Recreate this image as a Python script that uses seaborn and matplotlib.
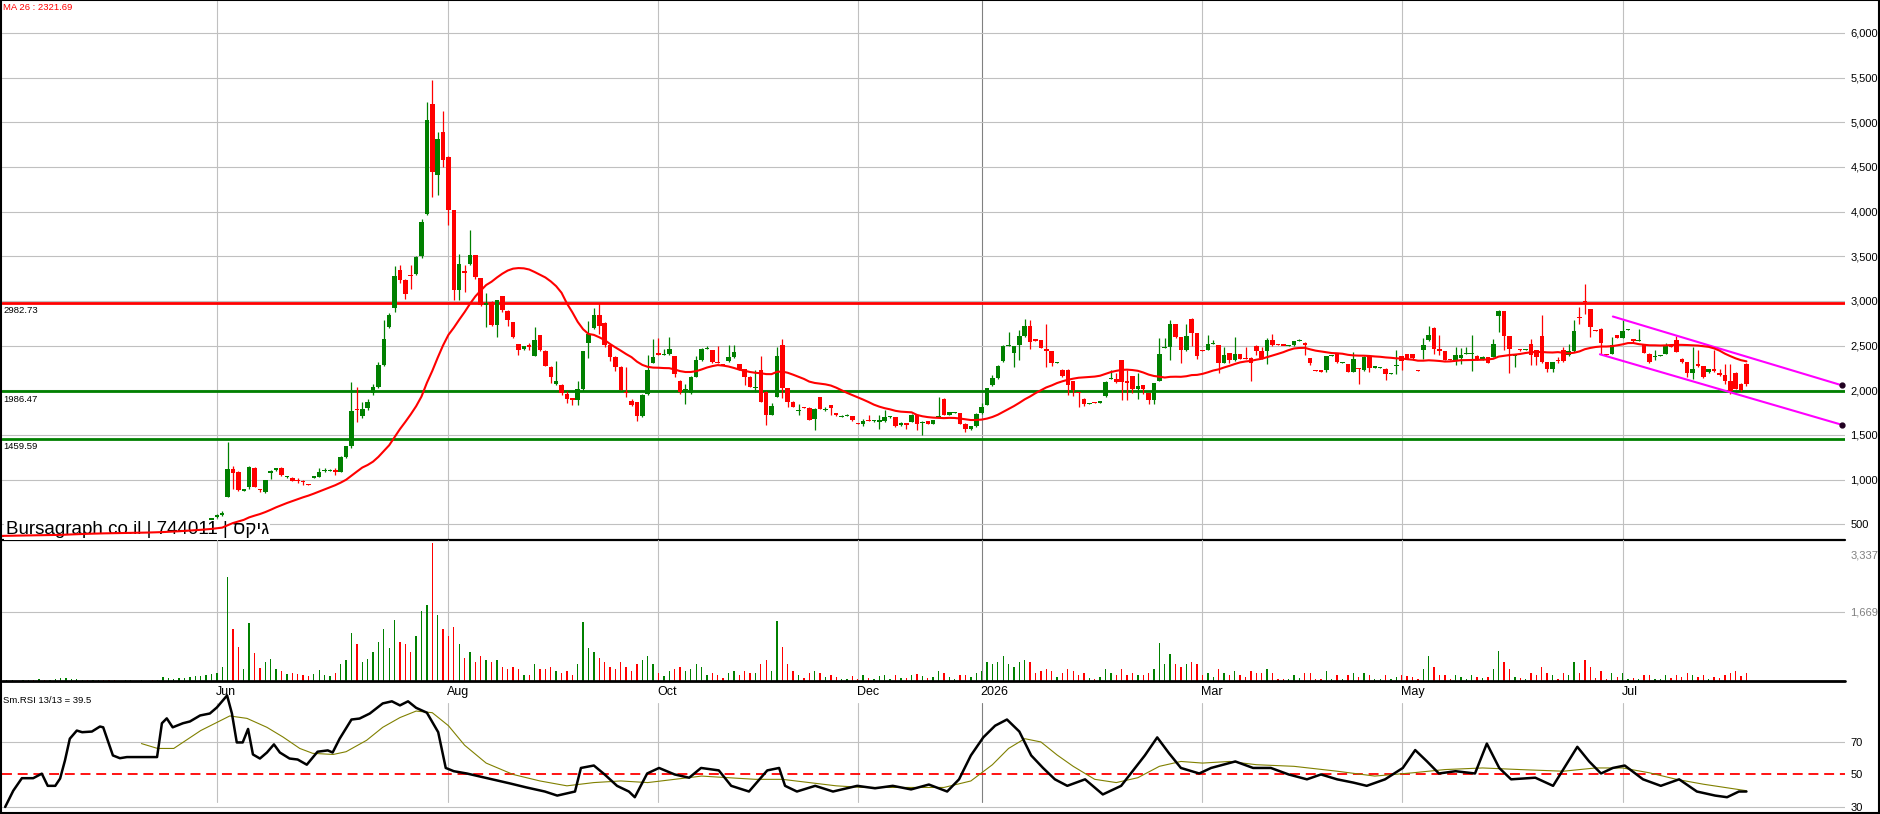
import numpy as np
import pandas as pd
import matplotlib
matplotlib.use("Agg")
import matplotlib.pyplot as plt
import seaborn as sns
from matplotlib.patches import Rectangle

# daily candles, one entry per trading day (bar 0 = first day on the chart)
opens = [
    366, 370, 372, 375, 378, 380, 380, 379, 381, 380,
    383, 395, 405, 415, 420, 425, 426, 425, 427, 428,
    422, 420, 419, 420, 420, 421, 420, 420, 421, 420,
    420, 440, 452, 460, 468, 478, 488, 498, 515, 540,
    580, 600, 809, 1118, 1085, 880, 921, 1133, 890, 865,
    1080, 1110, 1133, 1033, 1021, 990, 990, 950, 1020, 1033,
    1100, 1105, 1100, 1089, 1256, 1372, 1790, 1716, 1797, 1965,
    2040, 2282, 2711, 2920, 3352, 3240, 3290, 3307, 3500, 3979,
    5210, 4407, 4892, 4612, 4016, 3121, 3330, 3412, 3513, 3252,
    2954, 2990, 2729, 3050, 2890, 2767, 2517, 2457, 2500, 2387,
    2617, 2442, 2264, 2067, 2063, 1960, 1905, 1893, 2015, 2530,
    2696, 2848, 2756, 2511, 2374, 2263, 1980, 1881, 1867, 1707,
    1959, 2307, 2410, 2404, 2404, 2381, 2104, 2000, 1974, 2152,
    2337, 2465, 2448, 2310, 2290, 2326, 2370, 2289, 2233, 2152,
    2025, 2226, 1985, 1726, 1930, 2504, 2022, 1870, 1775, 1810,
    1804, 1681, 1922, 1787, 1833, 1748, 1705, 1717, 1711, 1628,
    1622, 1665, 1657, 1654, 1656, 1702, 1700, 1607, 1624, 1648,
    1726, 1642, 1656, 1622, 1705, 1904, 1722, 1750, 1744, 1622,
    1567, 1596, 1744, 1837, 2056, 2141, 2333, 2500, 2415, 2504,
    2604, 2716, 2565, 2560, 2466, 2437, 2308, 2231, 2231, 2101,
    1976, 1907, 1850, 1868, 1862, 1937, 2129, 2131, 2336, 2095,
    2157, 2019, 2056, 1970, 1896, 2105, 2476, 2485, 2738, 2597,
    2448, 2802, 2642, 2450, 2455, 2520, 2504, 2306, 2418, 2336,
    2403, 2360, 2366, 2500, 2437, 2440, 2560, 2517, 2509, 2502,
    2504, 2558, 2534, 2358, 2226, 2218, 2224, 2386, 2403, 2312,
    2291, 2205, 2245, 2224, 2381, 2260, 2254, 2243, 2185, 2274,
    2381, 2403, 2403, 2226, 2448, 2560, 2701, 2459, 2437, 2345,
    2343, 2365, 2408, 2408, 2388, 2347, 2373, 2373, 2832, 2888,
    2604, 2390, 2459, 2453, 2522, 2448, 2604, 2317, 2243, 2338,
    2448, 2392, 2437, 2815, 2995, 2907, 2674, 2690, 2405, 2410,
    2616, 2590, 2677, 2571, 2558, 2504, 2410, 2378, 2390, 2410,
    2511, 2560, 2354, 2313, 2194, 2299, 2269, 2205, 2239, 2198,
    2168, 2101, 2198, 2075, 2299,
]
highs = [
    374, 376, 379, 382, 384, 384, 383, 385, 385, 387,
    399, 409, 419, 424, 429, 430, 430, 431, 432, 430,
    424, 423, 424, 424, 425, 425, 424, 425, 425, 424,
    445, 457, 465, 473, 483, 493, 503, 515, 545, 570,
    610, 650, 1417, 1150, 1100, 900, 1150, 1140, 895, 1000,
    1110, 1135, 1140, 1045, 1025, 1020, 995, 955, 1040, 1125,
    1125, 1115, 1125, 1260, 1380, 2095, 2040, 1870, 1900, 2075,
    2320, 2785, 2870, 3390, 3400, 3250, 3400, 3500, 3920, 5228,
    5470, 4892, 5130, 4620, 4020, 3531, 3400, 3792, 3520, 3260,
    3085, 2995, 3015, 3060, 2895, 2770, 2520, 2500, 2530, 2711,
    2620, 2450, 2270, 2326, 2070, 1990, 1910, 2100, 2440, 2781,
    2922, 2974, 2760, 2515, 2380, 2270, 2263, 1900, 1870, 1955,
    2393, 2578, 2589, 2467, 2596, 2385, 2110, 2067, 2160, 2381,
    2475, 2493, 2455, 2493, 2295, 2504, 2511, 2295, 2240, 2160,
    2226, 2385, 1990, 1856, 2485, 2578, 2030, 1875, 1848, 1815,
    1810, 1800, 1925, 1818, 1835, 1750, 1720, 1730, 1715, 1630,
    1680, 1722, 1670, 1722, 1778, 1715, 1705, 1640, 1630, 1735,
    1730, 1655, 1660, 1670, 1930, 1910, 1760, 1760, 1750, 1630,
    1600, 1745, 1856, 2030, 2170, 2280, 2510, 2652, 2500, 2670,
    2795, 2783, 2570, 2565, 2746, 2440, 2315, 2235, 2235, 2105,
    1980, 1910, 1860, 1870, 1885, 2100, 2225, 2198, 2340, 2224,
    2160, 2194, 2060, 1975, 2085, 2590, 2590, 2783, 2745, 2600,
    2746, 2810, 2645, 2455, 2623, 2567, 2510, 2485, 2420, 2597,
    2405, 2490, 2370, 2505, 2485, 2586, 2634, 2520, 2512, 2510,
    2555, 2575, 2540, 2362, 2228, 2220, 2385, 2392, 2405, 2318,
    2295, 2429, 2250, 2380, 2385, 2268, 2260, 2245, 2190, 2448,
    2385, 2405, 2405, 2228, 2590, 2716, 2710, 2616, 2440, 2350,
    2485, 2470, 2485, 2623, 2390, 2380, 2378, 2578, 2903, 2890,
    2610, 2395, 2462, 2460, 2578, 2450, 2840, 2320, 2320, 2370,
    2485, 2522, 2783, 2930, 3186, 2910, 2678, 2695, 2410, 2597,
    2620, 2783, 2685, 2575, 2683, 2508, 2415, 2455, 2400, 2530,
    2515, 2605, 2358, 2318, 2485, 2455, 2272, 2239, 2455, 2242,
    2290, 2290, 2200, 2080, 2305,
]
lows = [
    362, 366, 368, 371, 374, 376, 375, 375, 376, 376,
    379, 391, 401, 411, 416, 421, 421, 421, 423, 418,
    416, 415, 415, 416, 416, 416, 416, 416, 416, 416,
    416, 436, 448, 456, 464, 474, 484, 494, 511, 536,
    575, 598, 800, 900, 870, 870, 900, 915, 860, 850,
    1010, 1100, 1040, 1020, 985, 960, 940, 935, 1015, 1030,
    1090, 1095, 1050, 1085, 1240, 1350, 1650, 1690, 1780, 1950,
    2030, 2270, 2700, 2880, 3200, 3020, 3130, 3290, 3480, 3960,
    4165, 4184, 4500, 3848, 3009, 3009, 3100, 3400, 3250, 2940,
    2711, 2720, 2599, 2880, 2720, 2590, 2390, 2450, 2450, 2380,
    2440, 2270, 2077, 2060, 1950, 1860, 1830, 1830, 1990, 2363,
    2690, 2626, 2480, 2330, 2220, 2000, 1930, 1820, 1652, 1700,
    1950, 2300, 2400, 2400, 2400, 2150, 1960, 1848, 1960, 2150,
    2330, 2460, 2310, 2300, 2285, 2320, 2365, 2230, 2056, 2035,
    1985, 1870, 1615, 1720, 1925, 1911, 1818, 1810, 1726, 1800,
    1665, 1559, 1785, 1763, 1719, 1715, 1700, 1710, 1660, 1624,
    1600, 1660, 1650, 1567, 1650, 1695, 1590, 1600, 1567, 1640,
    1552, 1504, 1620, 1618, 1700, 1720, 1718, 1745, 1620, 1533,
    1560, 1590, 1740, 1830, 2050, 2130, 2320, 2495, 2263, 2344,
    2600, 2466, 2555, 2470, 2261, 2269, 2305, 2150, 1950, 1937,
    1814, 1820, 1845, 1860, 1855, 1930, 2125, 2080, 1896, 1896,
    1971, 1900, 1960, 1843, 1843, 2100, 2470, 2336, 2590, 2310,
    2440, 2500, 2355, 2440, 2450, 2515, 2194, 2300, 2306, 2330,
    2350, 2355, 2105, 2400, 2355, 2290, 2500, 2510, 2502, 2500,
    2500, 2555, 2390, 2280, 2220, 2200, 2200, 2380, 2310, 2308,
    2200, 2200, 2067, 2220, 2205, 2255, 2250, 2112, 2180, 2187,
    2231, 2350, 2355, 2220, 2350, 2555, 2410, 2392, 2340, 2338,
    2287, 2290, 2405, 2216, 2340, 2340, 2300, 2370, 2653, 2448,
    2198, 2261, 2445, 2450, 2280, 2280, 2310, 2205, 2200, 2310,
    2320, 2385, 2430, 2740, 2850, 2597, 2668, 2410, 2380, 2405,
    2585, 2585, 2675, 2545, 2555, 2415, 2310, 2340, 2385, 2405,
    2480, 2425, 2310, 2149, 2130, 2265, 2138, 2190, 2210, 2165,
    2075, 1963, 2015, 1995, 2050,
]
closes = [
    370, 372, 375, 378, 380, 380, 379, 381, 380, 383,
    395, 405, 415, 420, 425, 426, 425, 427, 428, 422,
    420, 419, 420, 420, 421, 420, 420, 421, 420, 420,
    440, 452, 460, 468, 478, 488, 498, 510, 540, 565,
    600, 625, 1118, 1070, 884, 890, 1144, 921, 884, 995,
    1089, 1133, 1051, 1036, 988, 988, 975, 945, 1035, 1089,
    1105, 1107, 1095, 1256, 1375, 1764, 1780, 1790, 1872, 2040,
    2282, 2570, 2841, 3282, 3233, 3083, 3285, 3494, 3885, 5023,
    4445, 4818, 4575, 4016, 3121, 3412, 3318, 3513, 3263, 2954,
    2972, 2729, 3009, 2897, 2785, 2599, 2450, 2494, 2494, 2561,
    2450, 2275, 2144, 2104, 1967, 1907, 1900, 2011, 2437, 2633,
    2848, 2719, 2511, 2374, 2263, 2004, 1974, 1830, 1707, 1948,
    2226, 2374, 2405, 2404, 2459, 2181, 1978, 2011, 2152, 2337,
    2467, 2470, 2315, 2307, 2289, 2370, 2426, 2233, 2152, 2041,
    2030, 1874, 1726, 1819, 2381, 2022, 1874, 1818, 1778, 1805,
    1670, 1793, 1789, 1790, 1807, 1719, 1708, 1720, 1667, 1626,
    1652, 1663, 1660, 1657, 1700, 1705, 1596, 1633, 1622, 1726,
    1619, 1645, 1626, 1667, 1708, 1726, 1752, 1753, 1626, 1567,
    1596, 1737, 1818, 2022, 2133, 2270, 2500, 2504, 2496, 2604,
    2716, 2541, 2560, 2478, 2440, 2310, 2312, 2160, 2056, 2000,
    1974, 1851, 1853, 1866, 1880, 2093, 2131, 2093, 2093, 2093,
    2019, 2049, 2011, 1896, 2079, 2403, 2478, 2738, 2597, 2448,
    2604, 2642, 2381, 2448, 2515, 2522, 2306, 2392, 2336, 2403,
    2355, 2358, 2300, 2440, 2362, 2560, 2504, 2515, 2507, 2505,
    2548, 2560, 2504, 2306, 2224, 2216, 2381, 2388, 2317, 2314,
    2205, 2347, 2243, 2373, 2254, 2263, 2256, 2179, 2187, 2276,
    2325, 2355, 2360, 2224, 2504, 2623, 2466, 2440, 2343, 2343,
    2392, 2392, 2410, 2410, 2347, 2373, 2306, 2522, 2888, 2608,
    2466, 2392, 2448, 2455, 2392, 2373, 2317, 2243, 2317, 2336,
    2328, 2437, 2660, 2813, 2989, 2709, 2672, 2530, 2403, 2511,
    2590, 2660, 2679, 2548, 2560, 2418, 2317, 2380, 2392, 2500,
    2485, 2429, 2313, 2194, 2235, 2269, 2149, 2235, 2213, 2168,
    2101, 1993, 2019, 2000, 2067,
]
volume = [
    20, 15, 30, 10, 25, 20, 15, 40, 20, 30,
    60, 80, 70, 50, 40, 30, 20, 25, 30, 20,
    15, 20, 10, 15, 20, 10, 15, 10, 20, 15,
    90, 70, 60, 80, 70, 90, 110, 130, 150, 160,
    200, 350, 2520, 1260, 820, 300, 1400, 670, 320, 450,
    520, 300, 250, 180, 200, 160, 150, 120, 180, 260,
    150, 120, 200, 400, 500, 1150, 900, 450, 520, 700,
    950, 1250, 800, 1480, 950, 900, 700, 1100, 1690, 1840,
    3337, 1600, 1250, 1100, 1300, 900, 550, 700, 450, 600,
    500, 450, 500, 350, 300, 350, 300, 150, 150, 400,
    300, 300, 350, 250, 200, 250, 150, 400, 1430, 800,
    700, 550, 450, 350, 300, 450, 350, 250, 400, 500,
    600, 400, 200, 120, 250, 300, 350, 250, 300, 400,
    350, 150, 200, 150, 80, 200, 250, 150, 250, 200,
    200, 400, 500, 250, 1450, 820, 400, 250, 150, 80,
    200, 250, 200, 100, 150, 100, 60, 60, 120, 50,
    150, 80, 60, 120, 150, 60, 150, 80, 80, 150,
    180, 120, 80, 100, 250, 200, 100, 50, 150, 150,
    100, 200, 250, 450, 400, 450, 600, 400, 350, 450,
    500, 450, 200, 250, 300, 250, 100, 200, 300, 250,
    150, 200, 80, 60, 100, 300, 200, 150, 300, 150,
    200, 150, 150, 200, 300, 920, 400, 650, 400, 350,
    400, 450, 400, 150, 200, 100, 300, 200, 150, 250,
    150, 100, 250, 200, 200, 300, 200, 60, 60, 60,
    150, 80, 200, 200, 60, 60, 250, 60, 150, 50,
    150, 200, 100, 200, 150, 50, 50, 150, 50, 100,
    150, 120, 100, 60, 300, 605, 350, 150, 150, 50,
    150, 100, 60, 150, 100, 80, 100, 300, 725, 450,
    300, 100, 80, 50, 200, 150, 350, 200, 150, 60,
    200, 150, 450, 200, 500, 350, 80, 250, 60, 200,
    100, 200, 60, 80, 60, 150, 150, 60, 50, 150,
    80, 150, 100, 200, 150, 100, 150, 60, 100, 80,
    150, 200, 250, 120, 200,
]

# smoothed RSI (black) and its signal (olive), read as (bar, value) points
rsi_x = [0.7, 2.2, 3.8, 5.9, 7.5, 8.6, 10, 10.9, 11.8, 12.7, 14, 15, 16.8, 18.3, 18.9,
         20.7, 22, 23.3, 28.9, 29.8, 30.7, 31.8, 33.7, 35, 36.9, 38.7, 40, 41.9, 42.8,
         43.7, 44.8, 45.8, 46.7, 48, 49.3, 50.6, 51.7, 53.5, 55, 56.7, 58.7, 60.6, 61.5,
         62.8, 65, 66.5, 68.4, 70.8, 72.5, 74, 75.5, 77, 79, 81.1, 82.5, 84, 86.4, 88.5,
         91.1, 94.4, 97.5, 100.9, 103.2, 106.5, 107.6, 110, 112, 114.3, 116.5, 117.6,
         119.9, 122.1, 125, 127.7, 129.9, 133.2, 135.5, 138.8, 142.2, 144.4, 145.5,
         147.7, 151.1, 154.4, 158.9, 162.2, 165.5, 168.9, 172.2, 175.6, 177.8, 180,
         182.3, 184.5, 186.7, 189, 191.2, 193.4, 195.6, 197.9, 201.2, 204.5, 207.9,
         212.3, 214.6, 216.8, 219, 222.4, 224.6, 229.1, 232.4, 235.7, 239, 242.4, 245,
         248, 251, 253.5, 256.9, 260.2, 262.5, 264.7, 266.9, 270, 273.6, 275.8, 278.1,
         280.3, 284.8, 288.1, 292.6, 294.8, 297, 299.2, 301.4, 304.8, 308.1, 311.5,
         314.8, 318.2, 320.4, 322.6, 324]
rsi_y = [30, 40, 47.7, 47.7, 50.5, 43, 43, 47.5, 58.6, 72, 77, 76, 76.4, 79.5, 79,
         61.7, 60, 60.7, 60.7, 81.5, 84.5, 79, 81.5, 82.6, 86.3, 87.5, 91.2, 98.6, 87.5,
         69.7, 69.7, 78, 62.3, 59.8, 63.5, 68.5, 63.5, 59.8, 59.2, 56, 64, 64.8, 63.5,
         72, 83.8, 84.4, 87.5, 93.7, 95, 92.5, 95, 91, 88, 76, 54, 52, 50.6, 49,
         47, 44.5, 42, 39.5, 37, 39.5, 54, 55.5, 50, 43, 39.5, 36,
         50.6, 54, 50, 48, 54, 52.5, 43, 39.5, 52.5, 54, 43,
         39.5, 43, 39.5, 43, 41.5, 43, 40.8, 43.8, 39.5, 47, 61.7,
         72.8, 80, 83.8, 76.4, 61.7, 54, 47, 43, 47, 37.7, 43,
         61.7, 72.8, 63, 54, 50.6, 54, 58, 54, 54, 50, 47, 50,
         47, 45, 43, 47, 54, 65, 58, 50.6, 52, 50.6, 69, 54,
         47, 48, 43, 67, 58, 50.6, 54, 55.5, 47, 43, 47,
         39.5, 37, 36, 39.5, 39.5]
sig_x = [26, 29, 32, 37, 40, 42.4, 45.6, 49.3, 52.3, 55.4, 57.8, 61.6, 64, 67.8, 70.8,
         74, 77, 80, 83, 86, 90, 95, 100, 105, 110, 115, 120, 125, 130, 135, 140, 145,
         150, 155, 160, 165, 170, 175, 180, 184, 187, 190, 193, 196, 199, 203, 207, 211,
         215, 219, 223, 228, 233, 240, 248, 255, 262, 268, 275, 282, 290, 296, 301, 306,
         311, 316, 320, 324]
sig_y = [69, 66, 66, 77, 82, 86, 84.5, 79, 73, 66, 63, 62.3, 64, 71, 79,
         85, 89, 88, 80, 68, 57, 50, 46, 43, 45, 46, 45, 47, 49, 48, 47, 47,
         45, 43, 42, 42, 42, 42, 46, 56, 66, 72, 70, 62, 55, 47, 45, 48,
         55, 58, 57, 58, 56, 55, 52, 49, 51, 53, 54, 53, 52, 54, 54, 51,
         47, 44, 42, 40]

month_bars = [40, 83, 122, 159, 182, 223, 260, 301]
month_labels = ['Jun', 'Aug', 'Oct', 'Dec', '2026', 'Mar', 'May', 'Jul']

levels = [2982.73, 1986.47, 1459.59]
level_colors = ['#ff0000', '#008000', '#008000']

chan_up_x, chan_up_y = [299.2, 341.7], [2826, 2056]
chan_lo_x, chan_lo_y = [296.8, 341.7], [2403, 1614]

price_ticks = [500, 1000, 1500, 2000, 2500, 3000, 3500, 4000, 4500, 5000, 5500, 6000]

sns.set_theme(style="white")
plt.rcParams['font.family'] = ['Liberation Sans', 'DejaVu Sans']

df = pd.DataFrame({'open': opens, 'high': highs, 'low': lows,
                   'close': closes, 'volume': volume})
df['bar'] = np.arange(len(df))
df['ma'] = df['close'].rolling(26, min_periods=1).mean()
col = np.where(df['close'] >= df['open'], '#008000', '#ff0000')

W, H = 1880, 814
fig = plt.figure(figsize=(W / 100, H / 100), dpi=100)


def panel(top, bottom):
    return fig.add_axes([2 / W, 1 - bottom / H, 1843 / W, (bottom - top) / H])


ax_p = panel(1, 540)
ax_v = panel(540, 681)
ax_r = panel(681, 812)
grid = '#c0c0c0'
for ax in (ax_p, ax_v, ax_r):
    ax.set_xlim(0.11, 342.3)
    ax.set_facecolor('none')
    for s in ax.spines.values():
        s.set_visible(False)
    ax.set_xticks([])
    ax.yaxis.tick_right()
    ax.tick_params(axis='y', length=0, pad=4, labelsize=8, labelcolor='black')

# month grid
for b, lab in zip(month_bars, month_labels):
    c = '#808080' if lab == '2026' else grid
    ax_p.axvline(b, color=c, lw=0.8, zorder=0)
    ax_v.axvline(b, color=c, lw=0.8, zorder=0)
    ax_r.axvline(b, ymin=0.076, ymax=0.832, color=c, lw=0.8, zorder=0)
    ax_r.text(b - 0.2, 0.916, lab, transform=ax_r.get_xaxis_transform(),
              ha='left', va='center', fontsize=9, color='black')

# ---- price panel
ax_p.set_ylim(324, 6358)
for v in price_ticks:
    ax_p.axhline(v, color=grid, lw=0.8, zorder=0)
ax_p.set_yticks(price_ticks)
ax_p.set_yticklabels([f'{v:,}' for v in price_ticks])

body_lo = np.minimum(df['open'], df['close'])
body_h = (df['close'] - df['open']).abs()
draw_h = np.maximum(body_h, 14)
ax_p.vlines(df['bar'], df['low'], df['high'], colors=col, lw=0.9, zorder=2)
ax_p.bar(df['bar'], draw_h, bottom=body_lo - (draw_h - body_h) / 2, width=0.84,
         color=col, linewidth=0, zorder=2)

for lv, c in zip(levels, level_colors):
    ax_p.axhline(lv, color=c, lw=2.0, zorder=1.5)
    ax_p.text(0.35, lv - 35, f'{lv:.2f}', fontsize=6.8, ha='left', va='top',
              color='black', zorder=3)

ax_p.plot(chan_up_x, chan_up_y, color='#ff00ff', lw=1.5, zorder=4)
ax_p.plot(chan_lo_x, chan_lo_y, color='#ff00ff', lw=1.5, zorder=4)
ax_p.plot([chan_up_x[-1], chan_lo_x[-1]], [chan_up_y[-1], chan_lo_y[-1]], 'o',
          ms=3.5, color='#200020', zorder=6, clip_on=False)

ax_p.axhline(324, color='black', lw=1.6, zorder=3, clip_on=False)
ax_p.text(0.002, 0.003, 'Bursagraph co.il | 744011 | ' + 'גיקס'[::-1],
          transform=ax_p.transAxes, fontsize=13.5, ha='left', va='bottom',
          color='black', zorder=4.5,
          bbox=dict(facecolor='white', edgecolor='none', pad=1.2))

sns.lineplot(data=df, x='bar', y='ma', ax=ax_p, color='#ff0000', lw=1.5, zorder=5)
ax_p.text(1 / 1843, 0.988, 'MA 26 : 2321.69', transform=ax_p.transAxes,
          fontsize=6.8, color='#ff0000', ha='left', va='center')

# ---- volume panel
ax_v.set_ylim(0, 3410)
ax_v.axhline(1669, color=grid, lw=0.8, zorder=0)
ax_v.bar(df['bar'], df['volume'], width=0.25, color=col, linewidth=0, zorder=2)
ax_v.axhline(0, color='black', lw=2.0, zorder=3, clip_on=False)
ax_v.set_yticks([1669, 3071])
ax_v.set_yticklabels(['1,669', '3,337'])
ax_v.tick_params(axis='y', labelcolor='#808080')

# ---- RSI panel
ax_r.set_ylim(26.9, 107.5)
ax_r.axhline(70, color=grid, lw=0.8, zorder=0)
ax_r.axhline(30, color=grid, lw=0.8, zorder=0)
ax_r.axhline(50, color='#ff0000', lw=1.3, dashes=(5.5, 3.2), zorder=1)
sns.lineplot(x=sig_x, y=sig_y, ax=ax_r, color='#808000', lw=0.8, zorder=2)
sns.lineplot(x=rsi_x, y=rsi_y, ax=ax_r, color='black', lw=1.8, zorder=3)
ax_r.set_yticks([30, 50, 70])
ax_r.set_yticklabels(['30', '50', '70'])
ax_r.text(1 / 1843, 0.851, 'Sm.RSI 13/13 = 39.5', transform=ax_r.transAxes,
          fontsize=6.8, color='black', ha='left', va='center')

for ax in (ax_p, ax_v, ax_r):
    ax.set_xlabel('')
    ax.set_ylabel('')

fig.patches.append(Rectangle((0.0005, 0.0018), 0.999, 0.9976, transform=fig.transFigure,
                             fill=False, edgecolor='black', lw=1.5))

fig.savefig('out.png', dpi=100)
